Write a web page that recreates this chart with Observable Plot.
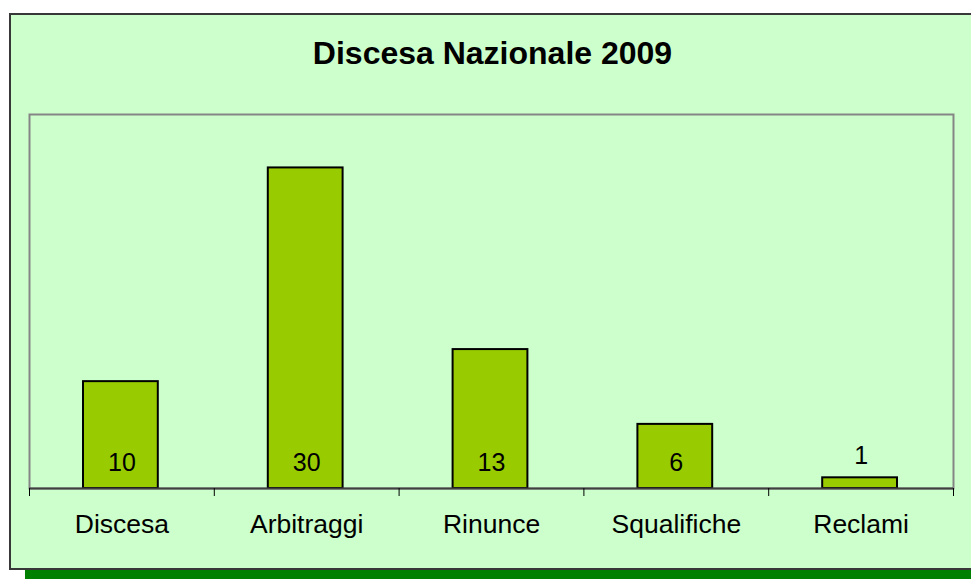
<!DOCTYPE html>
<html>
<head>
<meta charset="utf-8">
<script src="https://cdn.jsdelivr.net/npm/d3@7"></script>
<script src="https://cdn.jsdelivr.net/npm/@observablehq/plot@0.6"></script>
<style>
  html, body { margin: 0; padding: 0; }
  body { width: 971px; height: 579px; overflow: hidden; position: relative; background: #fff;
         font-family: "Liberation Sans", Arial, sans-serif; }
  #shadow { position: absolute; left: 25px; top: 30px; width: 980px; height: 560px; background: #008000; }
  #frame { position: absolute; left: 9px; top: 13px; width: 990px; height: 557px; box-sizing: border-box;
           background: #CCFFCC; border: 2px solid #383838; }
  #title { position: absolute; left: 0; top: 37px; width: 985px; text-align: center;
           font-size: 32px; font-weight: bold; line-height: 32px; color: #000; }
  #chart { position: absolute; left: 0; top: 0; }
</style>
</head>
<body>
<div id="shadow"></div>
<div id="frame"></div>
<div id="title">Discesa Nazionale 2009</div>
<div id="chart"></div>
<script>
const categories = ["Discesa", "Arbitraggi", "Rinunce", "Squalifiche", "Reclami"];
const values = [10, 30, 13, 6, 1];

const data = categories.map((c, i) => ({category: c, index: i, value: values[i]}));
const boundaries = d3.range(0, categories.length + 1);
const centers = categories.map((c, i) => i + 0.5);

const plot = Plot.plot({
  width: 971,
  height: 579,
  marginLeft: 29,
  marginRight: 18,
  marginTop: 114,
  marginBottom: 91,
  style: {background: "transparent", fontFamily: "'Liberation Sans', Arial, sans-serif", color: "#000", overflow: "visible"},
  x: {type: "linear", domain: [0, categories.length], label: null},
  y: {domain: [0, 35], axis: null, label: null},
  marks: [
    Plot.frame({stroke: "#858585", strokeWidth: 2}),
    Plot.rectY(data, {x1: "index", x2: d => d.index + 1, y: "value", insetLeft: 54, insetRight: 56,
      fill: "#99CC00", stroke: "#000", strokeWidth: 2}),
    Plot.ruleY([0], {stroke: "#404040", strokeWidth: 2}),
    Plot.axisX({ticks: boundaries, tickFormat: () => "", tickSize: 8, stroke: "#000", strokeWidth: 1, label: null}),
    Plot.axisX({ticks: centers, tickSize: 0, tickPadding: 26, fontSize: 26.5, label: null,
      tickFormat: d => categories[Math.round(d - 0.5)], fill: "#000"}),
    Plot.text(data.filter(d => d.value > 3), {x: d => d.index + 0.5, y: () => 0, text: d => String(d.value),
      dy: -26, fontSize: 25, fill: "#000"}),
    Plot.text(data.filter(d => d.value <= 3), {x: d => d.index + 0.5, y: "value", text: d => String(d.value),
      dy: -22, fontSize: 25, fill: "#000"})
  ]
});
document.getElementById("chart").appendChild(plot);
</script>
</body>
</html>
